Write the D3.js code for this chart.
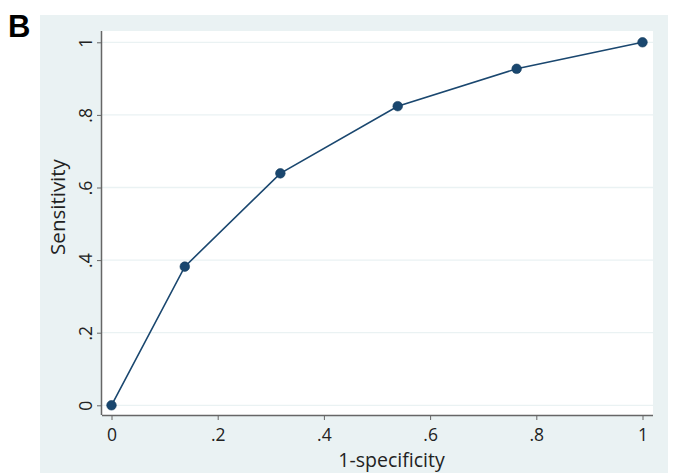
<!DOCTYPE html>
<html>
<head>
<meta charset="utf-8">
<title>ROC curve</title>
<script src="https://d3js.org/d3.v7.min.js"></script>
<style>
  body { margin: 0; background: #fff; }
  text { font-family: "Open Sans", sans-serif; fill: #222; }
</style>
</head>
<body>
<div id="chart"></div>
<script>
// ROC points
var fpr = [0, 0.138, 0.318, 0.539, 0.763, 1];
var tpr = [0, 0.382, 0.639, 0.824, 0.927, 1];
var xTicks = [0, 0.2, 0.4, 0.6, 0.8, 1];
var yTicks = [0, 0.2, 0.4, 0.6, 0.8, 1];
var xTitle = "1-specificity";
var yTitle = "Sensitivity";
var panelLabel = "B";

var width = 673, height = 473;
var bg = "#eaf2f3";
var navy = "#1a476f";

// plot region (white box) and data range inside it
var plot = { left: 102, top: 31, right: 653, bottom: 415 };

var svg = d3.select("#chart").append("svg")
    .attr("width", width)
    .attr("height", height);

// graph region
svg.append("rect")
    .attr("x", 40).attr("y", 15)
    .attr("width", 628).attr("height", 458)
    .attr("fill", bg);

svg.append("rect")
    .attr("x", plot.left).attr("y", plot.top)
    .attr("width", plot.right - plot.left)
    .attr("height", plot.bottom - plot.top)
    .attr("fill", "#fff");

svg.append("text")
    .attr("x", 8).attr("y", 37)
    .style("font-family", "Liberation Sans, Arial, sans-serif")
    .style("font-weight", "bold")
    .style("font-size", "31px")
    .style("fill", "#000")
    .text(panelLabel);

var x = d3.scaleLinear().domain([0, 1]).range([111.5, 642.5]);
var y = d3.scaleLinear().domain([0, 1]).range([405.3, 42.3]);

// horizontal grid
svg.append("g")
    .selectAll("line")
    .data(yTicks)
    .join("line")
    .attr("x1", plot.left).attr("x2", plot.right)
    .attr("y1", d => y(d)).attr("y2", d => y(d))
    .attr("stroke", bg)
    .attr("stroke-width", 1.3);

var fmt = function(d) {
    if (d === 0) return "0";
    if (d === 1) return "1";
    return d3.format(".1f")(d).replace(/^0/, "");
};

// x axis
var xAxis = svg.append("g")
    .attr("transform", "translate(0," + plot.bottom + ")")
    .call(d3.axisBottom(x).tickValues(xTicks).tickFormat(fmt).tickSize(5).tickPadding(9));
xAxis.select(".domain")
    .attr("d", "M" + plot.left + ",0.5H" + plot.right)
    .attr("stroke", "#666").attr("stroke-width", 1.5);
xAxis.selectAll(".tick line").attr("stroke", "#666");
xAxis.selectAll(".tick text")
    .style("font-size", "17.5px")
    .style("font-family", "Open Sans, sans-serif")
    .attr("fill", "#222");

// y axis
var yAxis = svg.append("g")
    .attr("transform", "translate(" + plot.left + ",0)")
    .call(d3.axisLeft(y).tickValues(yTicks).tickFormat(fmt).tickSize(5).tickPadding(6));
yAxis.select(".domain")
    .attr("d", "M-0.5," + plot.top + "V" + plot.bottom)
    .attr("stroke", "#666").attr("stroke-width", 1.5);
yAxis.selectAll(".tick line").attr("stroke", "#666");
yAxis.selectAll(".tick text")
    .style("font-size", "17.5px")
    .style("font-family", "Open Sans, sans-serif")
    .attr("fill", "#222")
    .attr("x", -17)
    .attr("dy", null)
    .attr("text-anchor", "middle")
    .attr("dominant-baseline", "central")
    .attr("transform", "rotate(-90,-17,0)");

// axis titles
svg.append("text")
    .attr("x", (plot.left + plot.right) / 2 + 14)
    .attr("y", 467)
    .attr("text-anchor", "middle")
    .style("font-size", "19.5px")
    .text(xTitle);

svg.append("text")
    .attr("transform", "translate(65," + ((plot.top + plot.bottom) / 2 - 16) + ") rotate(-90)")
    .attr("text-anchor", "middle")
    .style("font-size", "20.5px")
    .text(yTitle);

// curve
var pts = fpr.map((d, i) => [d, tpr[i]]);
svg.append("path")
    .datum(pts)
    .attr("fill", "none")
    .attr("stroke", navy)
    .attr("stroke-width", 1.6)
    .attr("d", d3.line().x(d => x(d[0])).y(d => y(d[1])));

svg.append("g")
    .selectAll("circle")
    .data(pts)
    .join("circle")
    .attr("cx", d => x(d[0]))
    .attr("cy", d => y(d[1]))
    .attr("r", 4.8)
    .attr("fill", navy)
    .attr("stroke", "#123a5c")
    .attr("stroke-width", 0.6);
</script>
</body>
</html>
